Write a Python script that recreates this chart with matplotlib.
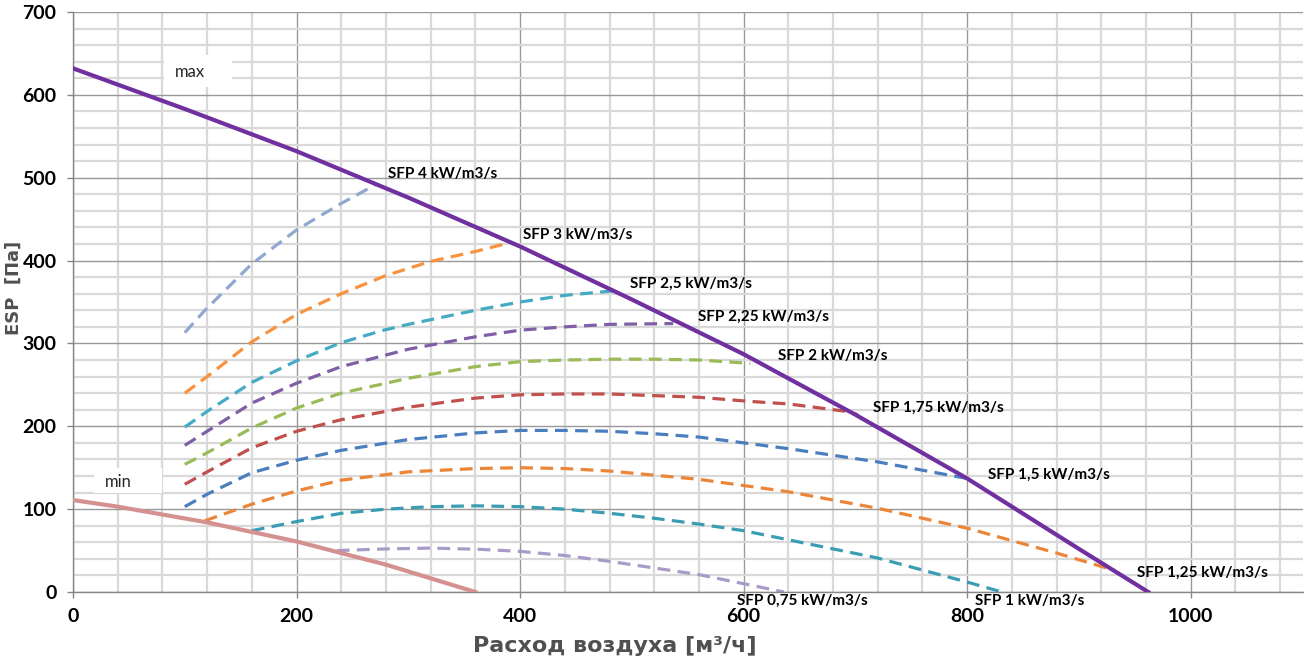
import matplotlib
matplotlib.use("Agg")
import matplotlib.pyplot as plt
from matplotlib.patches import Rectangle
from matplotlib.ticker import MultipleLocator

# max / min fan curves
max_x = [0, 100, 200, 300, 400, 500, 600, 700, 800, 900, 962]
max_y = [632, 583, 532, 476, 417, 353, 287, 214, 137, 52, 0]
min_x = [0, 40, 120, 200, 280, 360]
min_y = [111, 103, 84, 61, 33, 0]

# SFP curves
sfp4_x = [100, 118, 160, 200, 240, 270]
sfp4_y = [313, 340, 396, 437, 469, 491]
sfp3_x = [100, 120, 160, 200, 240, 280, 320, 360, 389]
sfp3_y = [240, 260, 302, 335, 360, 382, 399, 411, 421]
sfp25_x = [100, 120, 160, 200, 240, 278, 300, 360, 400, 440, 488]
sfp25_y = [199, 218, 253, 279, 301, 316, 323, 340, 350, 358, 364]
sfp225_x = [100, 120, 160, 200, 240, 300, 360, 400, 440, 480, 537]
sfp225_y = [177, 194, 228, 252, 272, 293, 308, 316, 320, 323, 324]
sfp2_x = [100, 120, 160, 200, 240, 300, 360, 400, 440, 480, 520, 560, 606]
sfp2_y = [154, 168, 198, 222, 240, 258, 272, 278, 280, 281, 281, 280, 276]
sfp175_x = [100, 120, 160, 200, 240, 300, 360, 400, 440, 480, 520, 560, 606, 640, 692, 702]
sfp175_y = [130, 145, 174, 194, 208, 223, 234, 238, 239, 239, 237, 235, 230, 227, 218, 214]
sfp15_x = [100, 120, 160, 200, 240, 300, 360, 400, 440, 480, 520, 560, 640, 720, 800]
sfp15_y = [103, 118, 144, 159, 171, 184, 192, 195, 195, 194, 191, 187, 173, 157, 137]
sfp125_x = [118, 160, 200, 240, 300, 360, 400, 440, 480, 520, 560, 640, 720, 800, 880, 932]
sfp125_y = [86, 106, 122, 135, 145, 149, 150, 149, 146, 141, 136, 121, 101, 77, 47, 26]
sfp1_x = [160, 200, 240, 280, 320, 360, 400, 440, 480, 520, 560, 600, 640, 720, 800, 831]
sfp1_y = [74, 85, 95, 100, 103, 104, 103, 100, 95, 89, 82, 74, 63, 41, 12, 0]
sfp075_x = [236, 280, 320, 364, 400, 440, 480, 520, 560, 600, 636]
sfp075_y = [50, 52, 53, 51.5, 49, 44, 37, 29, 21, 10, 0]

sfp_labels = ["SFP 4 kW/m3/s", "SFP 3 kW/m3/s", "SFP 2,5 kW/m3/s", "SFP 2,25 kW/m3/s",
              "SFP 2 kW/m3/s", "SFP 1,75 kW/m3/s", "SFP 1,5 kW/m3/s", "SFP 1,25 kW/m3/s",
              "SFP 1 kW/m3/s", "SFP 0,75 kW/m3/s"]
sfp_curves = [(sfp4_x, sfp4_y), (sfp3_x, sfp3_y), (sfp25_x, sfp25_y), (sfp225_x, sfp225_y),
              (sfp2_x, sfp2_y), (sfp175_x, sfp175_y), (sfp15_x, sfp15_y),
              (sfp125_x, sfp125_y), (sfp1_x, sfp1_y), (sfp075_x, sfp075_y)]
sfp_colors = ["#8FA8D0", "#F7923F", "#45AAC4", "#7F5FA6", "#9BBB59",
              "#C0504D", "#4A7EBF", "#EB8537", "#3A9DB3", "#A99BC8"]
# label anchors (left edge, vertical centre)
label_pos = [(282, 505), (403, 431), (498, 372), (559, 332), (631, 285),
             (716, 222), (819, 141), (952, 23), (807, -11), (594, -11)]

x_ticks = [0, 200, 400, 600, 800, 1000]
y_ticks = [0, 100, 200, 300, 400, 500, 600, 700]

fig = plt.figure(figsize=(13.04, 6.62), dpi=100)
ax = fig.add_axes([73 / 1304, 70 / 662, 1229.5 / 1304, 580 / 662])

ax.set_xlim(0, 1100)
ax.set_ylim(0, 700)
ax.set_xticks(x_ticks)
ax.set_yticks(y_ticks)
ax.xaxis.set_minor_locator(MultipleLocator(40))
ax.yaxis.set_minor_locator(MultipleLocator(20))
ax.set_axisbelow(True)
ax.grid(which="minor", color="#D9D9D9", linewidth=1.6)
ax.grid(which="major", color="#999999", linewidth=1.0)
ax.tick_params(which="minor", length=0)
ax.tick_params(which="major", length=4.3, width=1, color="#868686", pad=7.5,
               labelsize=14)
for lab in ax.get_xticklabels() + ax.get_yticklabels():
    lab.set_fontfamily(["Lato", "DejaVu Sans"])
    lab.set_fontweight("bold")
for s in ["top", "right"]:
    ax.spines[s].set_visible(False)
for s in ["left", "bottom"]:
    ax.spines[s].set_color("#868686")
    ax.spines[s].set_linewidth(1)

for (cx, cy), col in zip(sfp_curves, sfp_colors):
    ax.plot(cx, cy, color=col, linewidth=2.3, dashes=(4, 2.3), zorder=2,
            dash_capstyle="butt")

ax.plot(max_x, max_y, color="#7030A0", linewidth=3.0, zorder=3)
ax.plot(min_x, min_y, color="#D4918F", linewidth=3.0, zorder=3)

for txt, (lx, ly) in zip(sfp_labels, label_pos):
    ax.text(lx, ly, txt, ha="left", va="center", fontsize=11, fontweight="bold",
            family=["Lato", "DejaVu Sans"], color="black", zorder=5)

ax.add_patch(Rectangle((81, 610), 61, 38, facecolor="white", edgecolor="none", zorder=1))
ax.text(104.7, 628, "max", ha="center", va="center", fontsize=12,
        family=["Lato", "DejaVu Sans"], color="#262626", zorder=5)
ax.add_patch(Rectangle((19, 119.5), 61, 30, facecolor="white", edgecolor="none", zorder=1))
ax.text(40.3, 133, "min", ha="center", va="center", fontsize=12,
        family=["Lato", "DejaVu Sans"], color="#262626", zorder=5)

ax.set_xlabel("Расход воздуха [м³/ч]", fontsize=16, fontweight="bold",
              family=["DejaVu Sans"], color="#505050")
ax.xaxis.set_label_coords(0.441, -0.093)
ax.xaxis.label.set_verticalalignment("center")
ax.set_ylabel("ESP  [Па]", fontsize=13, fontweight="bold",
              family=["DejaVu Sans"], color="#505050")
ax.yaxis.set_label_coords(-0.0485, 0.524)
ax.yaxis.label.set_verticalalignment("center")

fig.savefig("out.png", dpi=100, facecolor="white")
